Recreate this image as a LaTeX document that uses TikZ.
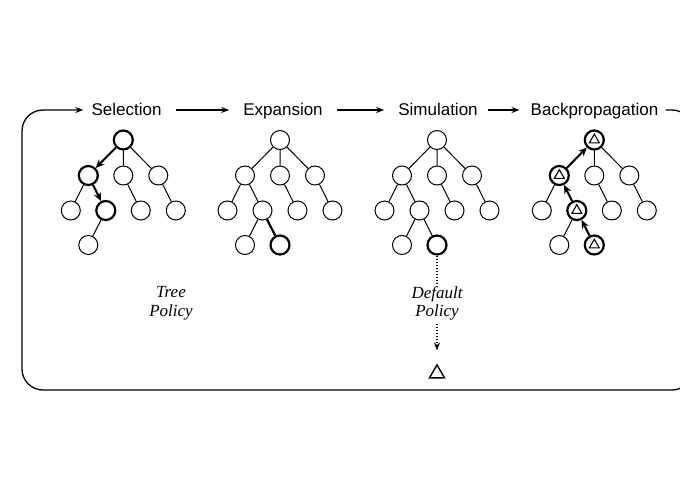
\documentclass[tikz,border=0pt]{standalone}
\usepackage{fontspec}
\setmainfont{Liberation Serif}
\setsansfont{Liberation Sans}
\usetikzlibrary{arrows.meta,shapes.geometric}
\newcommand\mctree[5]{%
 \node[#3] (#1r) at (#2,140) {};
 \node[#4] (#1a) at (#2-35,175.5) {};
 \node[nd] (#1b) at (#2,175.5) {};
 \node[nd] (#1c) at (#2+35,175.5) {};
 \node[nd] (#1aa) at (#2-52.5,210.5) {};
 \node[#5] (#1ab) at (#2-17.5,210.5) {};
 \node[nd] (#1ba) at (#2+17.5,210.5) {};
 \node[nd] (#1ca) at (#2+52.5,210.5) {};
 \node[nd] (#1aba) at (#2-35,245) {};
 \draw[ed] (#1r)--(#1b) (#1r)--(#1c) (#1a)--(#1aa) (#1b)--(#1ba) (#1c)--(#1ca) (#1ab)--(#1aba);
}
\begin{document}
\begin{tikzpicture}[x=1pt,y=-1pt,
 nd/.style={circle,draw,minimum size=19pt,inner sep=0pt,line width=1pt,fill=white},
 bnd/.style={nd,line width=2.2pt},
 ed/.style={line width=1pt},
 bed/.style={line width=2.2pt},
 barr/.style={line width=2pt,-{Stealth[length=8.5pt,width=7.5pt]}},
 hdr/.style={font=\sffamily\fontsize{17}{20}\selectfont,inner sep=0pt,text height=12pt,text depth=0pt},
 harr/.style={line width=1.1pt,-{Stealth[length=8pt,width=6pt]}},
 pol/.style={font=\itshape\fontsize{17}{18.5}\selectfont,align=center,inner sep=3pt},
 bigtri/.style={regular polygon,regular polygon sides=3,draw,inner sep=0pt,minimum size=17.3pt,line width=1.4pt},
 stri/.style={regular polygon,regular polygon sides=3,draw,inner sep=0pt,minimum size=11.5pt,line width=1.1pt},
]
\useasboundingbox (0,0) rectangle (680,500);

% headers
\node[hdr] (hsel) at (126.5,110) {Selection};
\node[hdr] (hexp) at (283,110) {Expansion};
\node[hdr] (hsim) at (438,110) {Simulation};
\node[hdr] (hbp) at (594.5,110) {Backpropagation};
\draw[harr,shorten <=14pt,shorten >=14pt] (hsel) -- (hexp);
\draw[harr,shorten <=14pt,shorten >=14pt] (hexp) -- (hsim);
\draw[harr,shorten <=10pt,shorten >=11pt] (hsim) -- (hbp);

% loop
\coordinate (rt) at (693,110);
\coordinate (rb) at (693,390);
\coordinate (lb) at (22,390);
\coordinate (lt) at (22,110);
\draw[harr,line width=1.3pt,rounded corners=21pt,shorten <=7pt,shorten >=8pt] (hbp.east) -- (rt) -- (rb) -- (lb) -- (lt) -- (hsel.west);

% Selection
\mctree{S}{123.3}{bnd}{bnd}{bnd}
\draw[barr] (Sr) -- (Sa);
\draw[barr] (Sa) -- (Sab);

% Expansion
\mctree{E}{280}{nd}{nd}{nd}
\draw[ed] (Er) -- (Ea) (Ea) -- (Eab);
\node[bnd] (Enew) at (280,245) {};
\draw[bed] (Eab) -- (Enew);

% Simulation
\mctree{M}{437}{nd}{nd}{nd}
\draw[ed] (Mr) -- (Ma) (Ma) -- (Mab);
\node[bnd] (Mnew) at (437,245) {};
\draw[ed] (Mab) -- (Mnew);

% Backpropagation
\mctree{B}{594.3}{bnd}{bnd}{bnd}
\node[bnd] (Bnew) at (594.3,245) {};
\draw[barr] (Bnew) -- (Bab);
\draw[barr] (Bab) -- (Ba);
\draw[barr] (Ba) -- (Br);
\node[stri] (Brt) at (Br) {};
\node[stri] (Bat) at (Ba) {};
\node[stri] (Babt) at (Bab) {};
\node[stri] (Bnewt) at (Bnew) {};

% policies
\node[pol] (tp) at (171,303.5) {Tree\\Policy};
\node[pol] (dp) at (437,303.5) {Default\\Policy};
\node[bigtri] (tri) at (437,373.5) {};
\draw[line width=1.2pt,dash pattern=on 1.2pt off 1.8pt] (Mnew) -- (dp);
\draw[line width=1.2pt,dash pattern=on 1.2pt off 1.8pt,-{Stealth[length=8pt,width=6pt]},shorten >=13pt] (dp) -- (tri.north);
\end{tikzpicture}
\end{document}
